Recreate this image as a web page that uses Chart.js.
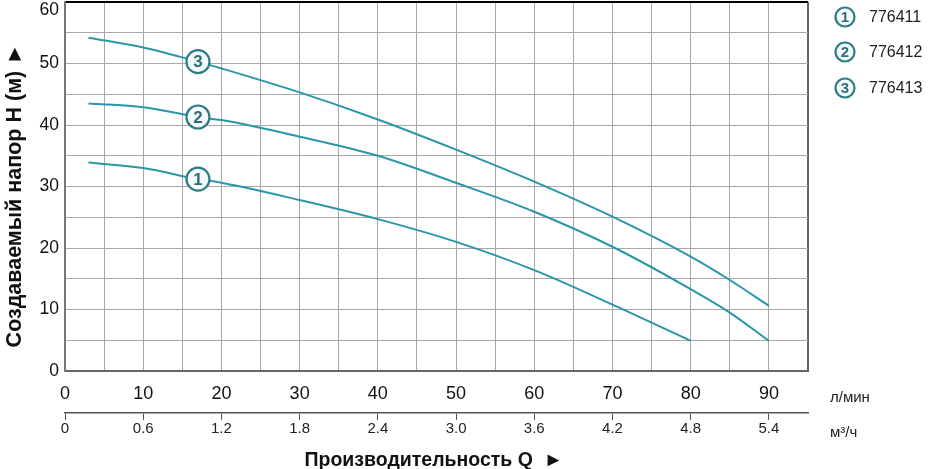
<!DOCTYPE html>
<html>
<head>
<meta charset="utf-8">
<script src="https://cdn.jsdelivr.net/npm/chart.js@4.4.1/dist/chart.umd.min.js"></script>
<style>
    html, body { margin: 0; padding: 0; background: #fff; }
</style>
</head>
<body>
<canvas id="myChart" width="928" height="469"></canvas>
<script>
// flow, l/min
var flowLmin = [3, 10, 17, 20, 30, 40, 50, 60, 70, 80, 85, 90];
// head, m
var head776411 = [33.9, 33.0, 31.2, 30.6, 27.8, 24.7, 21.0, 16.4, 10.8, 4.9, null, null];
var head776412 = [43.5, 42.9, 41.3, 40.8, 38.1, 35.0, 30.6, 25.9, 20.2, 13.3, 9.5, 4.9];
var head776413 = [54.2, 52.6, 50.3, 49.2, 45.3, 40.9, 36.0, 30.8, 25.1, 18.6, 14.8, 10.6];

var models = ['776411', '776412', '776413'];
var m3hTicks = [0, 0.6, 1.2, 1.8, 2.4, 3.0, 3.6, 4.2, 4.8, 5.4];
var markIndex = 2; // numbered circle sits on the x=17 point

var FONT = "'Liberation Sans', Arial, sans-serif";
var LINE = '#2a96a9';
var RING = '#2d7b85';
var NUM = '#2f6c76';

function toPoints(ys) {
    var pts = [];
    for (var i = 0; i < flowLmin.length; i++) {
        pts.push({ x: flowLmin[i], y: ys[i] });
    }
    return pts;
}

function curve(ys, label) {
    return {
        label: label,
        data: toPoints(ys),
        borderColor: LINE,
        borderWidth: 2,
        cubicInterpolationMode: 'monotone',
        pointRadius: function (c) { return c.dataIndex === markIndex ? 11.5 : 0; },
        pointBackgroundColor: '#f4fbfc',
        pointBorderColor: RING,
        pointBorderWidth: 2.2,
        spanGaps: false
    };
}

function ring(ctx, x, y, r, txt, size) {
    ctx.beginPath();
    ctx.arc(x, y, r, 0, Math.PI * 2);
    ctx.fillStyle = '#f4fbfc';
    ctx.fill();
    ctx.lineWidth = 2.2;
    ctx.strokeStyle = RING;
    ctx.stroke();
    ctx.fillStyle = NUM;
    ctx.font = 'bold ' + size + 'px ' + FONT;
    ctx.textAlign = 'center';
    ctx.textBaseline = 'middle';
    ctx.fillText(txt, x, y + 1);
}

var extras = {
    id: 'extras',
    afterDatasetsDraw: function (chart) {
        var ctx = chart.ctx;
        ctx.save();
        chart.data.datasets.forEach(function (ds, i) {
            var pt = chart.getDatasetMeta(i).data[markIndex];
            if (!pt) return;
            ctx.fillStyle = NUM;
            ctx.font = 'bold 17px ' + FONT;
            ctx.textAlign = 'center';
            ctx.textBaseline = 'middle';
            ctx.fillText(String(i + 1), pt.x, pt.y + 1);
        });

        // legend
        var rows = [17, 52, 88];
        models.forEach(function (m, i) {
            ring(ctx, 845, rows[i], 9.5, String(i + 1), 15);
            ctx.fillStyle = '#222';
            ctx.font = '16px ' + FONT;
            ctx.textAlign = 'left';
            ctx.textBaseline = 'middle';
            ctx.fillText(m, 869, rows[i] + 1);
        });

        // units
        ctx.fillStyle = '#222';
        ctx.font = '15px ' + FONT;
        ctx.textAlign = 'left';
        ctx.textBaseline = 'middle';
        ctx.fillText('л/мин', 830, 398);
        ctx.fillText('м³/ч', 830, 433);
        ctx.restore();
    }
};

document.addEventListener("DOMContentLoaded", function () {
    var ctx = document.getElementById('myChart').getContext('2d');
    new Chart(ctx, {
        type: 'line',
        data: {
            datasets: [
                curve(head776411, models[0]),
                curve(head776412, models[1]),
                curve(head776413, models[2])
            ]
        },
        options: {
            responsive: false,
            animation: false,
            events: [],
            layout: { padding: { top: 2, right: 120, left: 0, bottom: 0 } },
            plugins: { legend: { display: false }, tooltip: { enabled: false } },
            scales: {
                x: {
                    type: 'linear',
                    position: 'bottom',
                    min: 0,
                    max: 95,
                    afterFit: function (s) { s.height = 42; s.paddingLeft = 0; s.paddingRight = 0; },
                    ticks: {
                        stepSize: 5,
                        autoSkip: false,
                        maxRotation: 0,
                        padding: 12,
                        color: '#111',
                        font: { family: FONT, size: 18 },
                        callback: function (v) { return (v % 10 === 0 && v <= 90) ? String(v) : ''; }
                    },
                    grid: {
                        drawTicks: false,
                        color: function (c) { return c.tick && c.tick.value === 95 ? '#666' : '#a8a8a8'; },
                        lineWidth: function (c) { return c.tick && c.tick.value === 95 ? 2 : 1; }
                    },
                    border: { color: '#666', width: 2 }
                },
                x2: {
                    type: 'linear',
                    position: 'bottom',
                    min: 0,
                    max: 5.7,
                    afterBuildTicks: function (s) {
                        s.ticks = m3hTicks.map(function (v) { return { value: v }; });
                    },
                    afterFit: function (s) { s.height = 56; s.paddingLeft = 0; s.paddingRight = 0; },
                    ticks: {
                        autoSkip: false,
                        maxRotation: 0,
                        padding: 0,
                        color: '#222',
                        font: { family: FONT, size: 15 },
                        callback: function (v) { return v === 0 ? '0' : v.toFixed(1); }
                    },
                    grid: { drawOnChartArea: false, tickLength: 7, color: '#555' },
                    border: { color: '#555', width: 1.5 },
                    title: {
                        display: true,
                        text: 'Производительность Q  ►\u00a0',
                        color: '#111',
                        font: { family: FONT, size: 19.5, weight: 'bold', lineHeight: 1 },
                        padding: { top: 0, bottom: -1 }
                    }
                },
                y: {
                    min: 0,
                    max: 60,
                    afterFit: function (s) { s.width = 65; s.paddingTop = 0; s.paddingBottom = 0; },
                    ticks: {
                        stepSize: 5,
                        autoSkip: false,
                        padding: 6,
                        color: '#111',
                        font: function (c) {
                            return { family: FONT, size: 17.5, lineHeight: (c.tick && c.tick.value === 60) ? 0.9 : 1.2 };
                        },
                        callback: function (v) {
                            if (v === 60) return ['', '60'];
                            return v % 10 === 0 ? String(v) : '';
                        }
                    },
                    grid: {
                        drawTicks: false,
                        color: function (c) { return c.tick && c.tick.value === 60 ? '#000' : '#a8a8a8'; },
                        lineWidth: function (c) { return c.tick && c.tick.value === 60 ? 2 : 1; }
                    },
                    border: { color: '#777', width: 2 },
                    title: {
                        display: true,
                        text: 'Создаваемый напор H (м) ►\u00a0\u00a0\u00a0',
                        color: '#111',
                        font: { family: FONT, size: 21.5, weight: 'bold', lineHeight: 1.2 },
                        padding: { top: 2, bottom: 0 }
                    }
                }
            }
        },
        plugins: [extras]
    });
});
</script>
</body>
</html>
